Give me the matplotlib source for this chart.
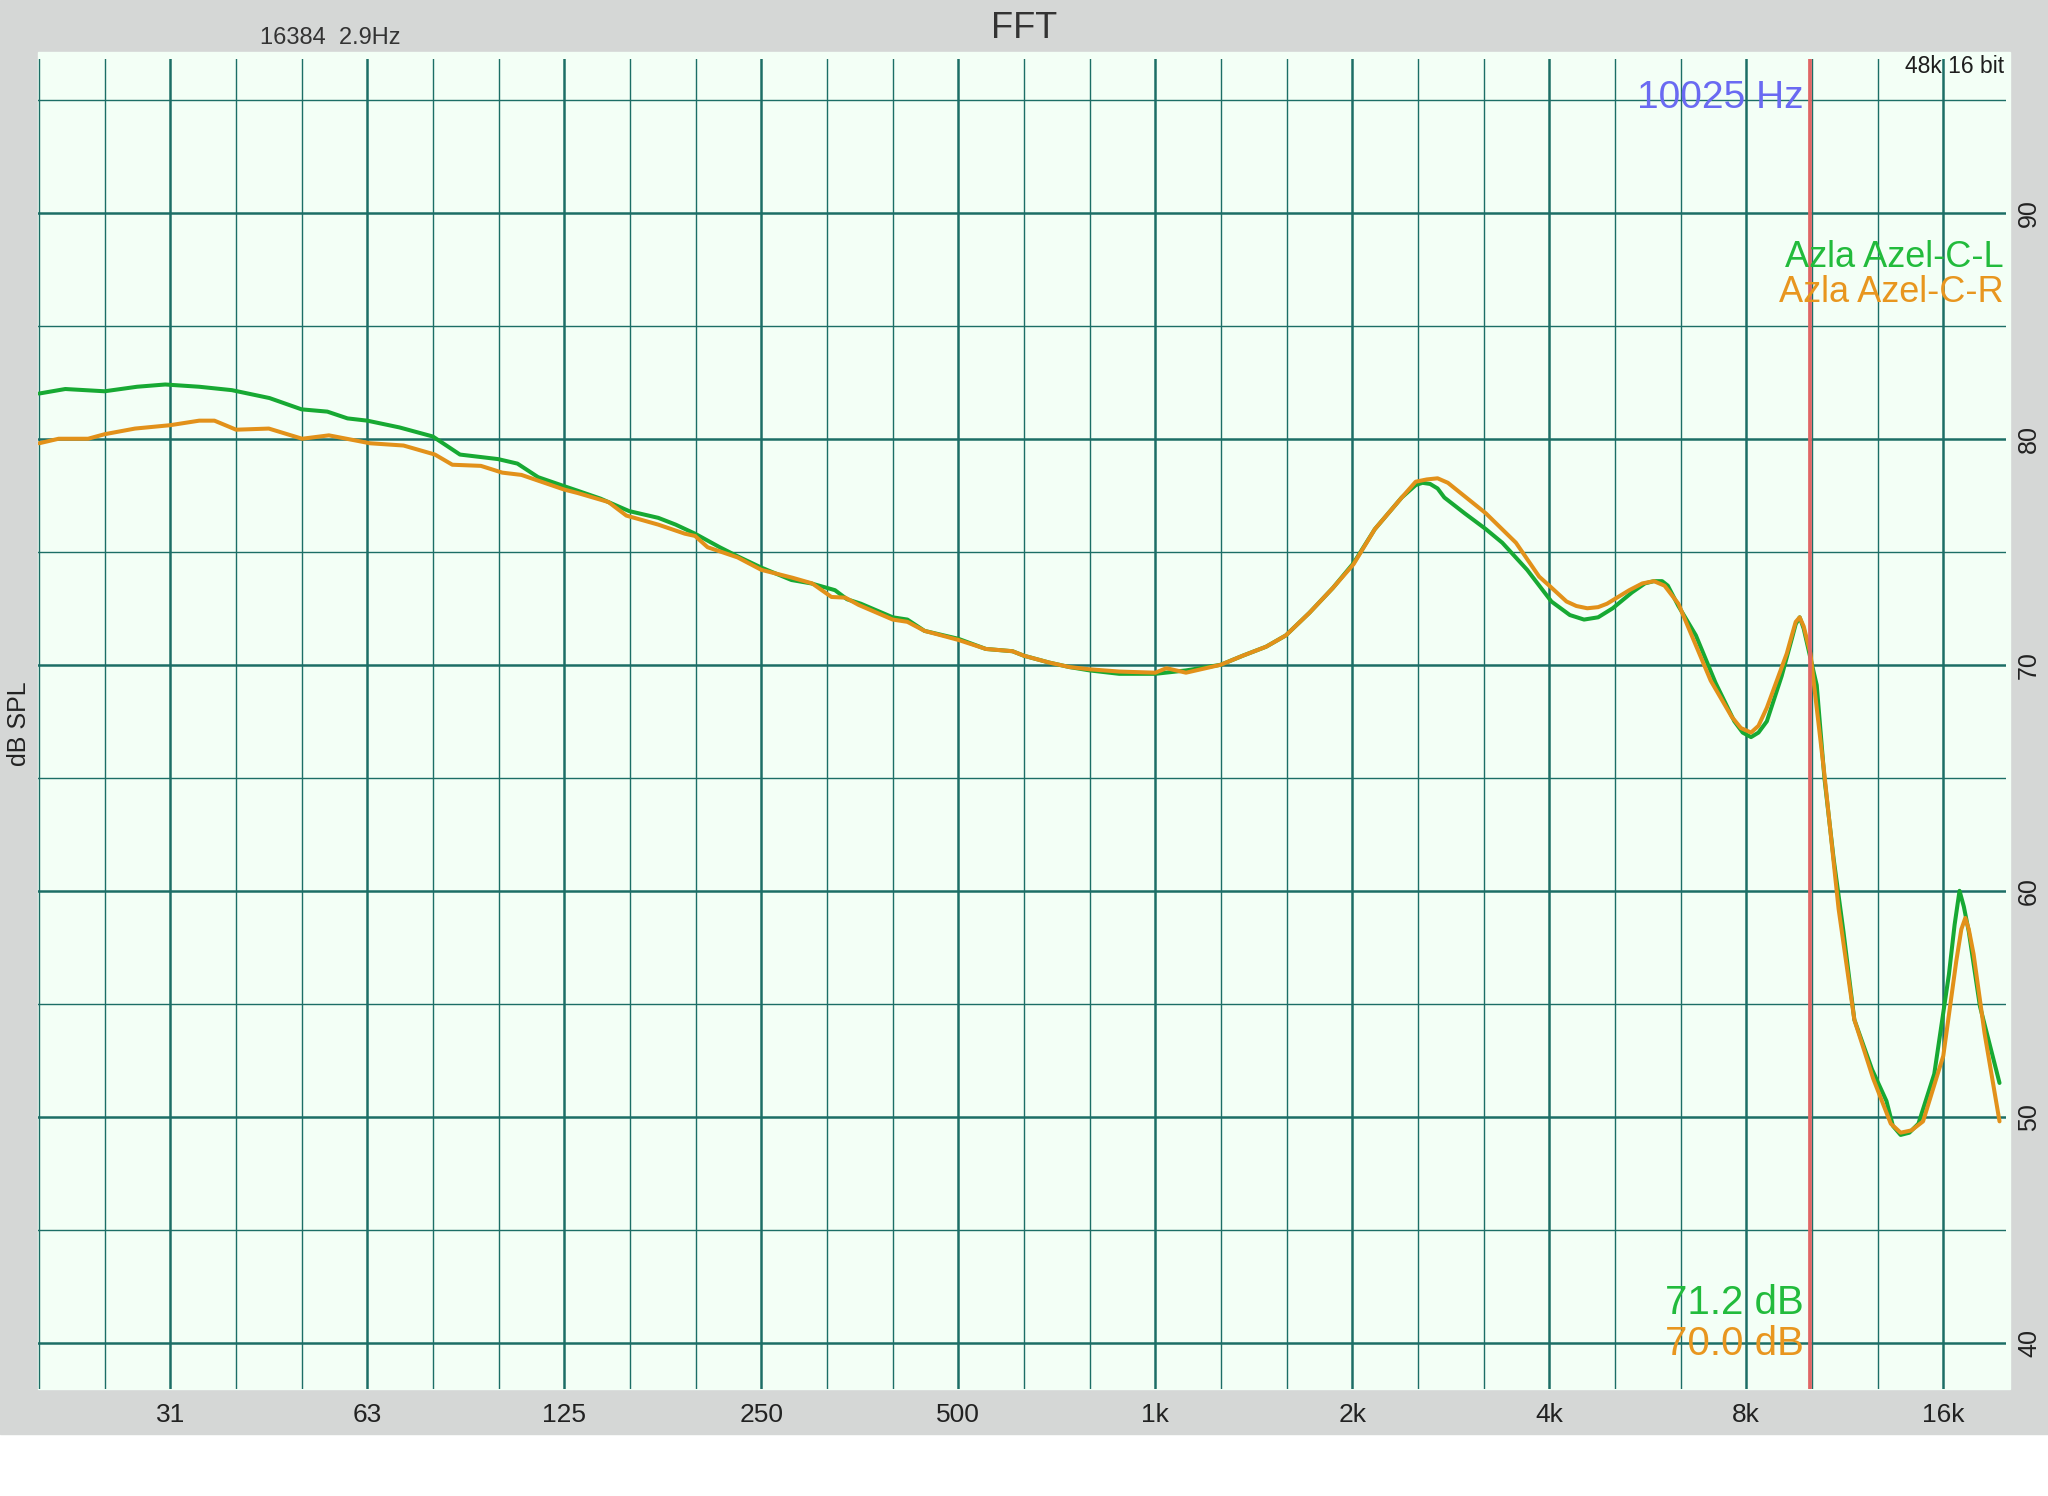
"""
    FFT frequency response, Azla Azel-C left / right
"""
import numpy as np
import matplotlib.pyplot as plt
from matplotlib.patches import Rectangle

# left channel (green)
freq_l = [19.7, 21.6, 24.8, 27.8, 30.7, 34.6, 38.8, 44.3, 49.6, 54.3, 58.3, 62.5,
          70.0, 78.7, 86.6, 99, 106, 114, 125, 131, 142, 157, 174, 185, 198, 216,
          230, 250, 278, 298, 324, 338, 355, 397, 418, 444, 500, 551, 605, 630,
          688, 739, 794, 881, 1000, 1114, 1259, 1360, 1477, 1583, 1720, 1868,
          2009, 2165, 2380, 2500, 2560, 2630, 2700, 2765, 2970, 3200, 3390, 3700,
          4030, 4300, 4520, 4750, 5000, 5350, 5600, 5780, 5950, 6070, 6300, 6700,
          7180, 7670, 7900, 8134, 8350, 8600, 9060, 9400, 9520, 9653, 9790, 10025,
          10250, 10530, 10880, 11260, 11700, 12450, 13100, 13400, 13770, 14200,
          14660, 15500, 16320, 16650, 16940, 17200, 17500, 18200, 19500]
spl_l = [82.0, 82.2, 82.1, 82.3, 82.4, 82.3, 82.15, 81.8, 81.3, 81.2, 80.9, 80.8,
         80.5, 80.1, 79.3, 79.1, 78.9, 78.3, 77.9, 77.7, 77.35, 76.8, 76.5, 76.2,
         75.8, 75.2, 74.8, 74.3, 73.75, 73.6, 73.3, 72.9, 72.7, 72.1, 72.0, 71.5,
         71.15, 70.7, 70.6, 70.4, 70.1, 69.9, 69.75, 69.6, 69.6, 69.75, 70.0, 70.4,
         70.8, 71.3, 72.3, 73.4, 74.5, 76.0, 77.4, 77.95, 78.05, 78.0, 77.8, 77.4,
         76.7, 76.0, 75.4, 74.2, 72.8, 72.2, 72.0, 72.1, 72.5, 73.2, 73.6, 73.7,
         73.7, 73.5, 72.6, 71.3, 69.2, 67.5, 67.0, 66.8, 67.0, 67.5, 69.5, 71.2,
         71.8, 72.1, 71.6, 70.3, 69.1, 65.0, 61.4, 58.2, 54.3, 52.1, 50.7, 49.6,
         49.2, 49.3, 49.7, 51.9, 56.3, 58.5, 60.0, 59.3, 58.2, 54.9, 51.5]

# right channel (orange)
freq_r = [19.7, 21.1, 23.4, 24.8, 27.6, 31.25, 34.6, 36.5, 39.4, 44.2, 49.7, 54.6,
          63.1, 71.0, 79.3, 84.3, 93.2, 100.5, 107.5, 125, 131, 146, 155.5, 174,
          191, 198, 207, 230, 250, 279, 299, 320, 336, 352, 397, 418, 444, 500,
          551, 605, 630, 688, 739, 794, 881, 1000, 1040, 1114, 1259, 1360, 1477,
          1583, 1720, 1868, 2009, 2165, 2380, 2500, 2600, 2700, 2800, 2870, 3200,
          3557, 3860, 4000, 4250, 4400, 4572, 4750, 4900, 5300, 5550, 5780, 6000,
          6300, 7058, 7600, 7850, 8134, 8350, 8600, 9225, 9390, 9520, 9653, 9790,
          10025, 10526, 11070, 11700, 12500, 13300, 13770, 14300, 14900, 16000,
          16750, 17050, 17290, 17500, 17800, 18500, 19500]
spl_r = [79.8, 80.0, 80.0, 80.2, 80.45, 80.6, 80.8, 80.8, 80.4, 80.45, 80.0, 80.15,
         79.8, 79.7, 79.3, 78.85, 78.8, 78.5, 78.4, 77.75, 77.6, 77.2, 76.6, 76.2,
         75.8, 75.7, 75.2, 74.75, 74.2, 73.85, 73.6, 73.0, 72.97, 72.65, 72.0, 71.9,
         71.5, 71.1, 70.7, 70.6, 70.4, 70.1, 69.9, 69.8, 69.7, 69.65, 69.85, 69.65,
         70.0, 70.4, 70.8, 71.3, 72.3, 73.4, 74.45, 76.0, 77.4, 78.1, 78.2, 78.25,
         78.05, 77.8, 76.7, 75.4, 73.9, 73.5, 72.8, 72.6, 72.5, 72.55, 72.7, 73.3,
         73.6, 73.7, 73.5, 72.7, 69.3, 67.7, 67.2, 67.0, 67.3, 68.1, 70.5, 71.3,
         71.9, 72.1, 71.7, 70.5, 65.2, 59.2, 54.3, 51.7, 49.7, 49.3, 49.4, 49.8,
         52.7, 56.9, 58.3, 58.8, 58.3, 57.2, 53.7, 49.8]

oct_ticks = [31.25, 62.5, 125, 250, 500, 1000, 2000, 4000, 8000, 16000]
oct_labels = ['31', '63', '125', '250', '500', '1k', '2k', '4k', '8k', '16k']
third_ticks = [1000 * 2.0 ** (k / 3.0) for k in range(-17, 13) if k % 3 != 0]
db_ticks = [40, 50, 60, 70, 80, 90]
db_minor = [45, 55, 65, 75, 85, 95]
names = ['Azla Azel-C-L', 'Azla Azel-C-R']
cursor_hz = 10025
cursor_db = [71.2, 70.0]

W, H = 2048, 1496
GRAY = '#d5d7d6'
MINT = '#f3fff6'
GRID = '#1c6e66'
GREEN_LINE = '#17a933'
ORANGE_LINE = '#e2911a'
GREEN_TXT = '#22bb3c'
ORANGE_TXT = '#e8961f'

plt.rcParams['font.family'] = ['Liberation Sans', 'DejaVu Sans']

def fx(px):
    return px / W

def fy(py):
    return 1 - py / H

fig = plt.figure(figsize=(W / 100, H / 100), dpi=100, facecolor='white')
fig.add_artist(Rectangle((0, fy(1434)), 1, 1434 / H, transform=fig.transFigure,
                         color=GRAY, zorder=-10))
fig.add_artist(Rectangle((fx(38), fy(1389)), (2010 - 38) / W, (1389 - 52) / H,
                         transform=fig.transFigure, color=MINT, zorder=-9))

ax = fig.add_axes([fx(38), fy(1389), (2006 - 38) / W, (1389 - 59) / H])
ax.set_facecolor(MINT)
ax.set_xscale('log')
ax.set_xlim(19.62, 19950)
ax.set_ylim(37.96, 96.8)
for s in ax.spines.values():
    s.set_visible(False)

ax.set_xticks(oct_ticks, oct_labels)
ax.set_xticks(third_ticks, minor=True)
ax.xaxis.set_minor_formatter(plt.NullFormatter())
ax.yaxis.tick_right()
ax.set_yticks(db_ticks, [str(d) for d in db_ticks])
ax.set_yticks(db_minor, minor=True)
ax.tick_params(which='both', length=0)
ax.tick_params(axis='x', labelsize=19, pad=10, labelcolor='#222222')
ax.tick_params(axis='y', labelsize=18, pad=8, labelcolor='#222222', labelrotation=90)
for t in ax.get_yticklabels():
    t.set_va('center')

ax.grid(which='major', color=GRID, lw=1.8, zorder=1)
ax.grid(which='minor', color=GRID, lw=1.0, zorder=1)
ax.set_axisbelow(True)

ax.plot(freq_l, spl_l, color=GREEN_LINE, lw=2.9, solid_joinstyle='round',
        solid_capstyle='round', zorder=3)
ax.plot(freq_r, spl_r, color=ORANGE_LINE, lw=2.9, solid_joinstyle='round',
        solid_capstyle='round', zorder=4)
ax.axvline(cursor_hz, color='#e06666', lw=2.7, zorder=5)

xt = ax.get_xaxis_transform()
ax.annotate(f'{cursor_hz} Hz', xy=(cursor_hz, 0.9707), xycoords=xt, xytext=(-5, 0),
            textcoords='offset points', ha='right', va='center', fontsize=28,
            color='#6a6af2', zorder=6)
ax.annotate(f'{cursor_db[0]:.1f} dB', xy=(cursor_hz, 0.0649), xycoords=xt, xytext=(-5, 0),
            textcoords='offset points', ha='right', va='center', fontsize=29,
            color=GREEN_TXT, zorder=6)
ax.annotate(f'{cursor_db[1]:.1f} dB', xy=(cursor_hz, 0.0341), xycoords=xt, xytext=(-5, 0),
            textcoords='offset points', ha='right', va='center', fontsize=29,
            color=ORANGE_TXT, zorder=6)
ax.text(0.999, 0.8506, names[0], transform=ax.transAxes, ha='right', va='center',
        fontsize=26, color=GREEN_TXT, zorder=6)
ax.text(0.999, 0.8243, names[1], transform=ax.transAxes, ha='right', va='center',
        fontsize=26, color=ORANGE_TXT, zorder=6)
ax.text(0.999, 0.9942, '48k 16 bit', transform=ax.transAxes, ha='right', va='center',
        fontsize=16.5, color='#1e1e1e', zorder=6)

fig.text(0.5, fy(29), 'FFT', ha='center', va='center', fontsize=26, color='#333333')
fig.text(fx(330), fy(38), '16384  2.9Hz', ha='center', va='center', fontsize=17,
         color='#333333')
fig.text(fx(19), fy(724), 'dB SPL', rotation=90, ha='center', va='center',
         fontsize=18, color='#222222')

fig.savefig('out.png', dpi=100, facecolor=fig.get_facecolor())
